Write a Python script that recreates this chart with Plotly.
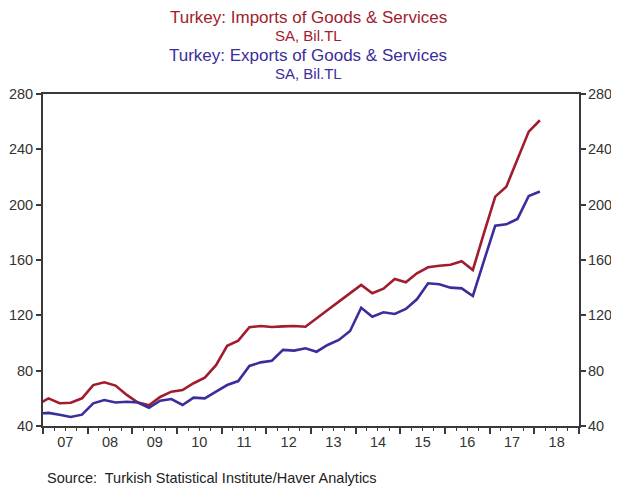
import pandas as pd
import plotly.graph_objects as go

# Quarterly data, SA, Bil.TL
quarters = ["2006Q4",
            "2007Q1", "2007Q2", "2007Q3", "2007Q4",
            "2008Q1", "2008Q2", "2008Q3", "2008Q4",
            "2009Q1", "2009Q2", "2009Q3", "2009Q4",
            "2010Q1", "2010Q2", "2010Q3", "2010Q4",
            "2011Q1", "2011Q2", "2011Q3", "2011Q4",
            "2012Q1", "2012Q2", "2012Q3", "2012Q4",
            "2013Q1", "2013Q2", "2013Q3", "2013Q4",
            "2014Q1", "2014Q2", "2014Q3", "2014Q4",
            "2015Q1", "2015Q2", "2015Q3", "2015Q4",
            "2016Q1", "2016Q2", "2016Q3", "2016Q4",
            "2017Q1", "2017Q2", "2017Q3", "2017Q4",
            "2018Q1"]

imports = [55.5,
           60.0, 56.4, 56.8, 60.0,
           69.6, 71.6, 69.2, 62.5,
           57.0, 55.0, 61.0, 64.8,
           66.0, 70.9, 75.0, 84.0,
           98.0, 101.7, 111.4, 112.3,
           111.6, 112.0, 112.3, 111.8,
           117.6, 123.9, 129.9, 136.0,
           142.0, 136.0, 139.3, 146.3,
           143.9, 150.4, 154.7, 155.8,
           156.5, 159.1, 152.8, 179.8,
           205.8, 213.0, 232.8, 252.8,
           261.0]

exports = [49.0,
           49.5, 48.2, 46.5, 48.2,
           56.4, 58.8, 57.0, 57.5,
           57.0, 53.2, 58.3, 59.5,
           55.2, 60.5, 60.0, 64.8,
           69.6, 72.5, 83.4, 86.0,
           87.2, 95.0, 94.5, 96.2,
           93.7, 98.6, 102.2, 108.7,
           125.5, 119.0, 122.2, 121.0,
           124.6, 131.6, 143.2, 142.5,
           140.0, 139.5, 134.0, 159.8,
           184.8, 185.8, 189.7, 206.3,
           209.5]

y_ticks = [40, 80, 120, 160, 200, 240, 280]

# mid-quarter dates
periods = pd.PeriodIndex(quarters, freq="Q")
dates = [p.start_time + (p.end_time - p.start_time) / 2 for p in periods]

RED = "#A01C2E"
BLUE = "#3A2E9C"
AXC = "#3a3a3a"
FONT = "Liberation Sans, Arial, sans-serif"

# page body has an 8px margin on every side; size the figure so the page
# does not overflow the window, and shift everything by that margin
OFF = 8
W, H = 619 - 2 * OFF, 496 - 2 * OFF
PL, PR, PT, PB = 43 - OFF, 579 - OFF, 94 - OFF, 426 - OFF  # plot-area edges in figure px
PW, PH = PR - PL, PB - PT

fig = go.Figure()
fig.add_trace(go.Scatter(x=dates, y=imports, mode="lines",
                         line=dict(color=RED, width=2.6), yaxis="y",
                         name="Imports", showlegend=False))
fig.add_trace(go.Scatter(x=dates, y=exports, mode="lines",
                         line=dict(color=BLUE, width=2.6), yaxis="y2",
                         name="Exports", showlegend=False))

yax = dict(range=[40, 280], tickvals=y_ticks, ticks="outside", ticklen=5,
           tickwidth=1.5, tickcolor=AXC, showline=True, linewidth=2,
           linecolor=AXC, showgrid=False, zeroline=False,
           tickfont=dict(family=FONT, size=14.5, color="#333333"))

fig.update_layout(
    width=W, height=H,
    margin=dict(l=PL, r=W - PR, t=PT, b=H - PB, autoexpand=False),
    paper_bgcolor="white", plot_bgcolor="white",
    xaxis=dict(type="date", range=["2007-01-01", "2019-01-01"],
               tick0="2007-01-01", dtick="M12", tickformat="%y",
               ticklabelmode="period", ticks="outside", ticklen=6,
               ticklabelstandoff=-4,
               tickwidth=1.5, tickcolor=AXC, showline=True, linewidth=2,
               linecolor=AXC, mirror=True, showgrid=False, zeroline=False,
               tickfont=dict(family=FONT, size=14.5, color="#333333"),
               minor=dict(dtick="M3", tick0="2007-01-01", ticks="outside",
                          ticklen=3, tickwidth=1, tickcolor=AXC,
                          showgrid=False)),
    yaxis=dict(side="left", **yax),
    yaxis2=dict(side="right", overlaying="y", anchor="x",
                ticklabelstandoff=-1, **yax),
)

titles = [
    ("Turkey: Imports of Goods & Services", 17, RED, 17),
    ("SA, Bil.TL", 35, RED, 15),
    ("Turkey: Exports of Goods & Services", 55, BLUE, 17),
    ("SA, Bil.TL", 73, BLUE, 15),
]
cx = (308 - 43) / 536
for txt, ypx, col, sz in titles:
    fig.add_annotation(text=txt, xref="paper", yref="paper",
                       x=cx, y=(426 - ypx) / PH, xanchor="center",
                       yanchor="middle", showarrow=False,
                       font=dict(family=FONT, size=sz, color=col))

# source note, anchored to the bottom edge of the figure so it is not clipped
fig.add_annotation(text="Source:  Turkish Statistical Institute/Haver Analytics",
                   xref="paper", yref="paper", x=(46 - 43) / PW,
                   y=-(H - PB - 1) / PH, xanchor="left", yanchor="bottom",
                   showarrow=False, borderpad=0,
                   font=dict(family=FONT, size=14.5, color="#222222"))

fig.write_html("out.html")
